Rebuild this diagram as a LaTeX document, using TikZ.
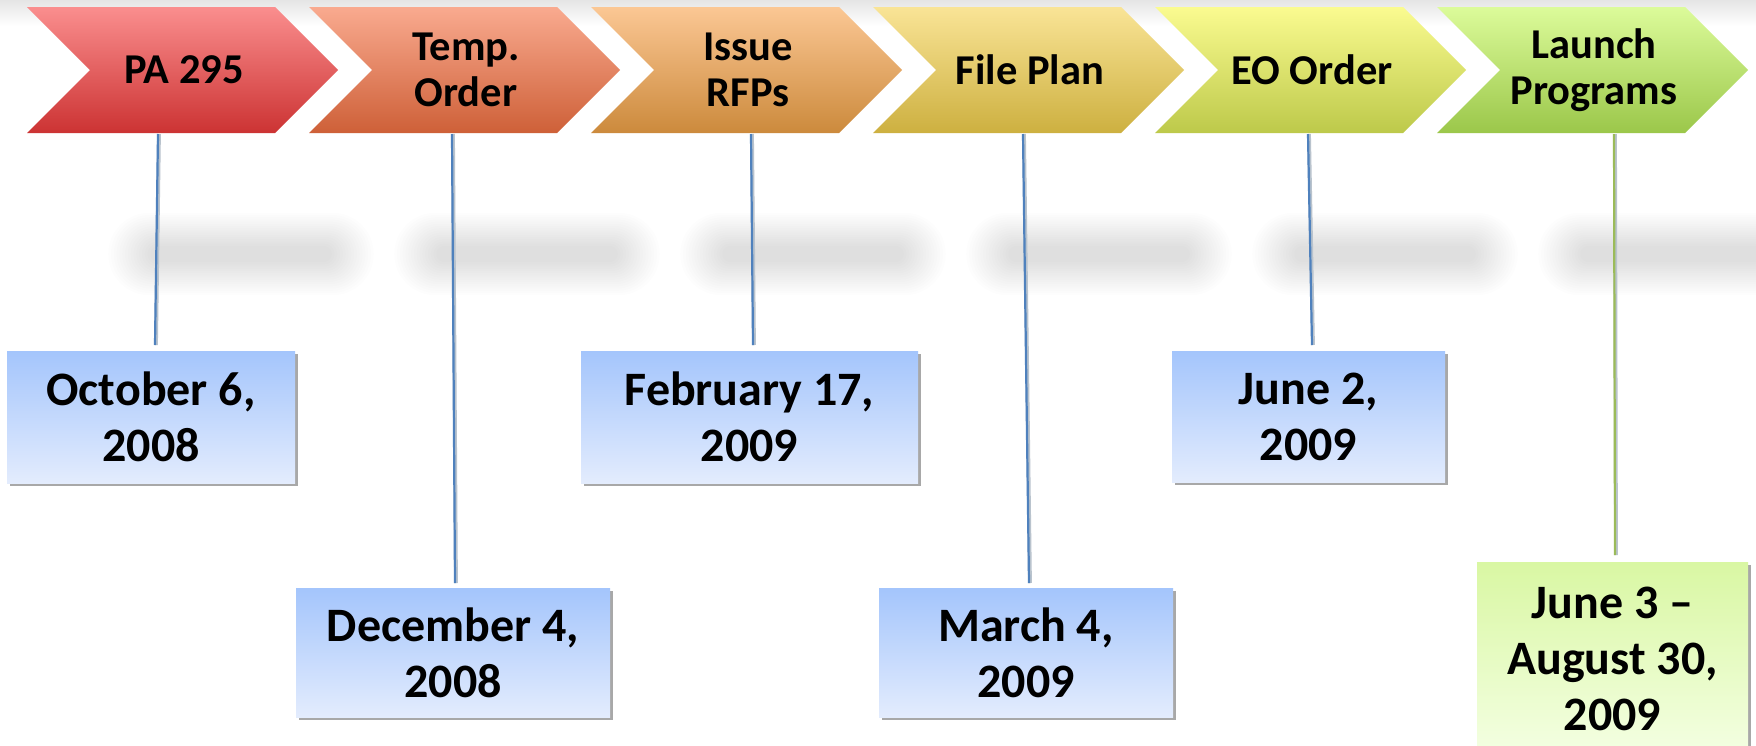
\documentclass[tikz,border=0pt]{standalone}
\usepackage{fontspec}
\setmainfont{Carlito}
\usetikzlibrary{shadows}
\definecolor{c1t}{RGB}{250,142,142}\definecolor{c1b}{RGB}{204,51,51}
\definecolor{c2t}{RGB}{249,170,143}\definecolor{c2b}{RGB}{206,96,56}
\definecolor{c3t}{RGB}{251,199,148}\definecolor{c3b}{RGB}{204,138,60}
\definecolor{c4t}{RGB}{249,228,150}\definecolor{c4b}{RGB}{205,176,64}
\definecolor{c5t}{RGB}{250,251,144}\definecolor{c5b}{RGB}{189,201,74}
\definecolor{c6t}{RGB}{220,251,154}\definecolor{c6b}{RGB}{155,199,74}
\definecolor{bluetop}{RGB}{164,197,252}\definecolor{bluebot}{RGB}{227,236,253}
\definecolor{greentop}{RGB}{217,247,163}\definecolor{greenbot}{RGB}{244,255,227}
\definecolor{boxshadow}{RGB}{168,168,168}
\definecolor{lineblue}{RGB}{79,129,189}\definecolor{linegreen}{RGB}{155,187,89}
\definecolor{lineedge}{RGB}{185,195,205}
\begin{document}
\begin{tikzpicture}[x=1pt,y=-1pt,
  chevtext/.style={align=center, font=\bfseries\fontsize{42.5}{46}\selectfont, inner sep=0pt,
    minimum width=185pt, minimum height=126pt},
  datebox/.style={align=center, font=\bfseries\fontsize{48}{56}\selectfont, inner sep=0pt,
    drop shadow={shadow xshift=3pt, shadow yshift=-3pt, fill=boxshadow, opacity=1}},
  bluebox/.style={datebox, top color=bluetop, bottom color=bluebot},
  greenbox/.style={datebox, top color=greentop, bottom color=greenbot},
  conn/.style={draw=lineblue, line width=2.2pt,
    preaction={draw=lineedge, line width=3.8pt, transform canvas={xshift=1pt}}},
  conngreen/.style={conn, draw=linegreen},
]
\useasboundingbox (0,0) rectangle (1756,745);
\clip (0,0) rectangle (1756,745);
\fill[white] (0,0) rectangle (1756,745);
% faint glow above the chevrons
\shade[top color=black!10, bottom color=white] (0,0) rectangle (1756,26);
% blurred reflections
\foreach \c in {241,527,813,1099,1385,1671}{
  \foreach \k in {1,...,16}{
    \pgfmathsetmacro\rr{6+2.2*\k}
    \fill[black, opacity=0.0085, rounded corners=\rr pt]
      (\c-88-2.8*\k, 254-6-2.2*\k) rectangle (\c+88+2.8*\k, 254+6+2.2*\k);
  }
}
% chevrons
\foreach \i/\x/\txt in {1/27/{PA 295}, 2/309/{Temp.\\Order}, 3/591/{Issue\\RFPs},
                        4/873/{File Plan}, 5/1155/{EO Order}, 6/1437/{Launch\\Programs}}{
  \shade[top color=c\i t, bottom color=c\i b]
    (\x,7) -- (\x+248,7) -- (\x+311,70) -- (\x+248,133) -- (\x,133) -- (\x+63,70) -- cycle;
  \node[chevtext] (c\i) at (\x+157,70) {\txt};
}
% date boxes
\node[bluebox, minimum width=288pt, minimum height=132pt] (d1) at (151,417) {October 6,\\2008};
\node[bluebox, minimum width=314pt, minimum height=129pt] (d2) at (453,652.5) {December 4,\\2008};
\node[bluebox, minimum width=337pt, minimum height=132pt] (d3) at (749.5,417) {February 17,\\2009};
\node[bluebox, minimum width=294pt, minimum height=129pt] (d4) at (1026,652.5) {March 4,\\2009};
\node[bluebox, minimum width=273pt, minimum height=131pt] (d5) at (1308.5,416.5) {June 2,\\2009};
\node[greenbox, minimum width=271pt, minimum height=194pt] (d6) at (1612.5,659) {June 3 --\\August 30,\\2009};
% connector ends
\coordinate (a1) at (158,134);  \coordinate (b1) at (155,345);
\coordinate (a2) at (452,134);  \coordinate (b2) at (455,583);
\coordinate (a3) at (751,134);  \coordinate (b3) at (753,345);
\coordinate (a4) at (1023,134); \coordinate (b4) at (1029,583);
\coordinate (a5) at (1308,134); \coordinate (b5) at (1312,345);
\coordinate (a6) at (1614,134); \coordinate (b6) at (1615,555);
\draw[conn] (a1) -- (b1);
\draw[conn] (a2) -- (b2);
\draw[conn] (a3) -- (b3);
\draw[conn] (a4) -- (b4);
\draw[conn] (a5) -- (b5);
\draw[conngreen] (a6) -- (b6);
\end{tikzpicture}
\end{document}
